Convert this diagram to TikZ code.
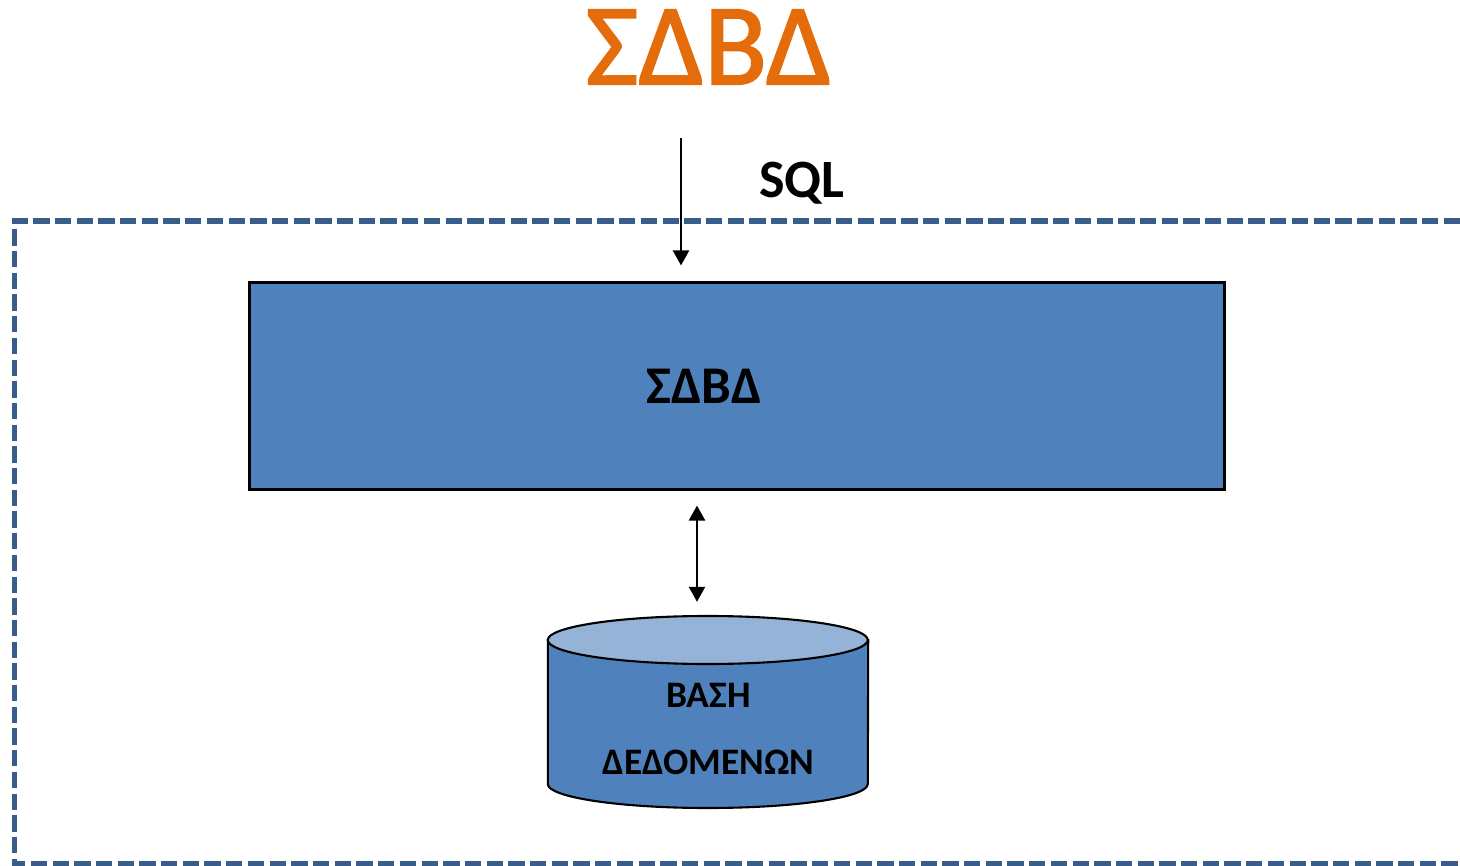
\documentclass[tikz,border=0pt]{standalone}
\usepackage{fontspec}
\setmainfont{Carlito}
\newfontfamily\titlefont[FakeBold=1.6]{Carlito}
\usetikzlibrary{arrows.meta}
\definecolor{boxblue}{HTML}{4F81BD}
\definecolor{lidblue}{HTML}{95B3D7}
\definecolor{dashblue}{HTML}{385D8A}
\definecolor{titleorange}{HTML}{E46C0A}
\tikzset{
  lbl/.style={font=\bfseries\fontsize{#1}{#1}\selectfont,inner sep=0pt,anchor=base},
  arr/.style={line width=2.4pt,{Triangle[width=16pt,length=15pt]}-{Triangle[width=16pt,length=15pt]}},
}
\begin{document}
\begin{tikzpicture}[x=1pt,y=-1pt]
\useasboundingbox (0,0) rectangle (1460,866);
%
\node(title) at (708.5,47) [inner sep=0pt,text=titleorange,font=\titlefont\fontsize{116}{116}\selectfont] {ΣΔΒΔ};
%
\coordinate(frameA) at (1460,221);
\coordinate(frameB) at (14.5,221);
\coordinate(frameC) at (14.5,864);
\coordinate(frameD) at (1460,864);
\draw[dashblue,line width=5.5pt,dash pattern=on 16.3pt off 5.4pt] (frameA) -- (frameB) -- (frameC) -- (frameD);
%
\node(dbms) at (737,386) [draw=black,fill=boxblue,line width=2.1pt,minimum width=975pt,minimum height=207pt,inner sep=0pt] {};
\node(dbmslabel) at (704,404) [lbl=53] {ΣΔΒΔ};
%
\node(db) at (708,712) [minimum width=320pt,minimum height=192pt,inner sep=0pt] {};
\draw[draw=black,fill=boxblue,line width=2.1pt] (db.west |- 0,640) -- (db.west |- 0,784) arc[start angle=180,end angle=360,x radius=160pt,y radius=24pt] -- (db.east |- 0,640) -- cycle;
\draw[draw=black,fill=lidblue,line width=2.1pt] (db.west |- 0,640) arc[start angle=180,end angle=-180,x radius=160pt,y radius=24pt] -- cycle;
\node(dblabelA) at (708.5,707) [lbl=37.4] {ΒΑΣΗ};
\node(dblabelB) at (708.5,774) [lbl=37.4] {ΔΕΔΟΜΕΝΩΝ};
%
\node(sql) at (802,198) [lbl=54] {SQL};
\coordinate(sqlstart) at (681,138);
\draw[line width=2.4pt,-{Triangle[width=16pt,length=15pt]},shorten >=16pt] (sqlstart) -- (sqlstart |- dbms.north);
%
\coordinate(linkx) at (697,550);
\draw[arr,shorten <=15pt,shorten >=14pt] (linkx |- dbms.south) -- (linkx |- db.north);
\end{tikzpicture}
\end{document}
